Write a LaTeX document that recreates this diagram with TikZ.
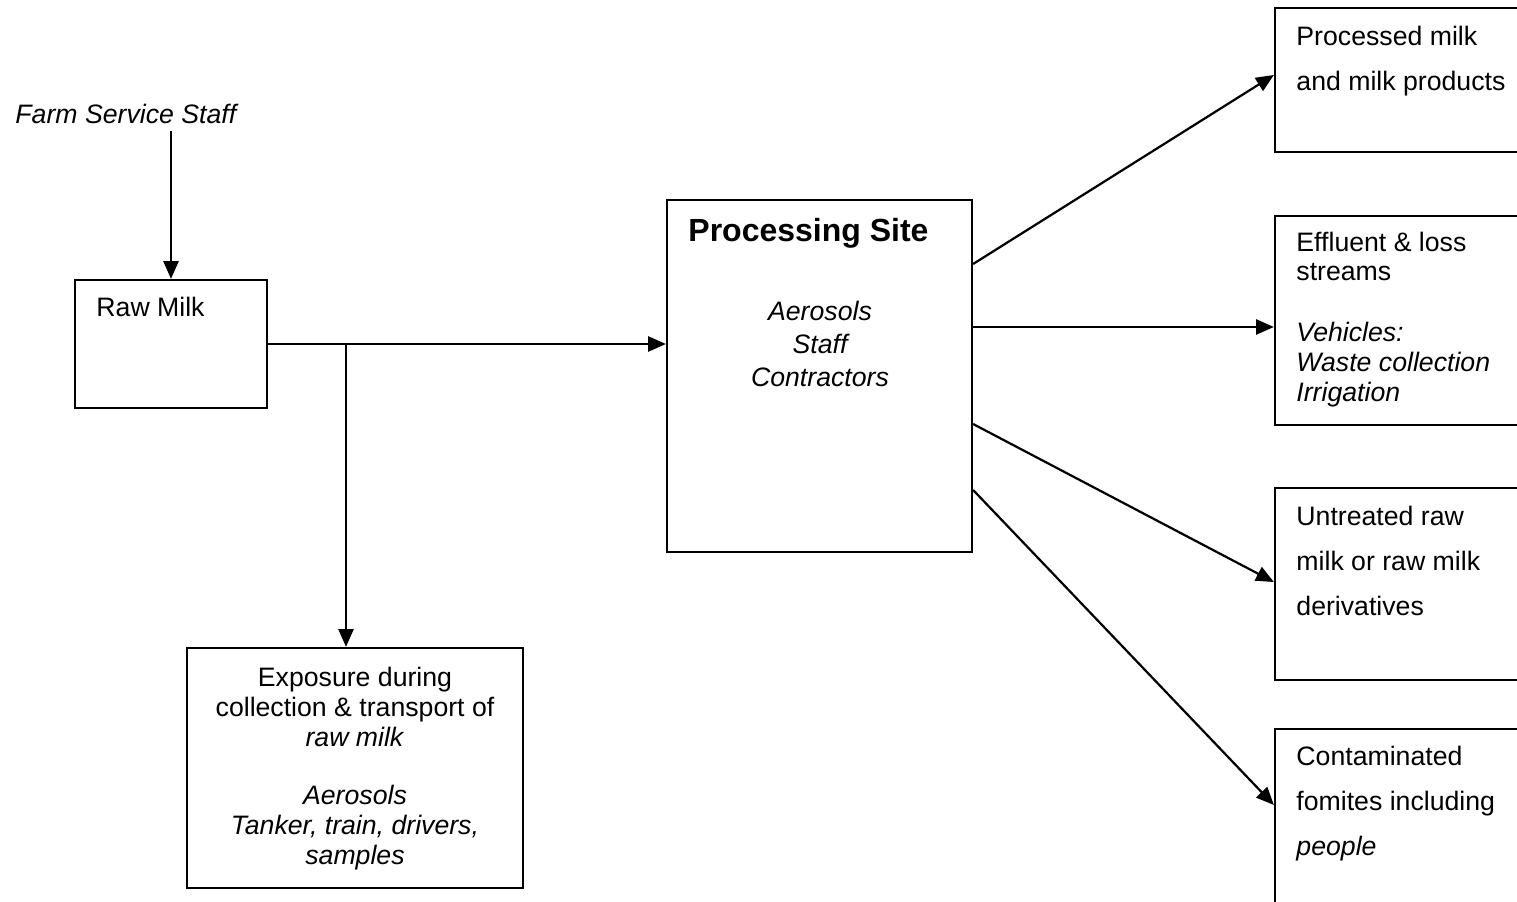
\documentclass[tikz,border=0pt]{standalone}
\usepackage{fontspec}
\setmainfont{Liberation Sans}
\usetikzlibrary{arrows.meta,fit}

\tikzset{
  box/.style={draw, line width=1pt, inner sep=0pt},
  txt/.style={inner sep=0pt, font=\fontsize{12}{13.5}\selectfont},
  wide/.style={inner sep=0pt, align=left, font=\fontsize{12}{20.25}\selectfont},
  link/.style={line width=1pt, -{Triangle[length=8pt,width=6.8pt]}},
}

\begin{document}
\begin{tikzpicture}[x=0.45pt,y=-0.45pt]
\useasboundingbox (0,0) rectangle (1517,902);
\clip (0,0) rectangle (1517,902);

% boxes
\node[box, fit={(75,280)(267,408)}] (raw) {};
\node[box, fit={(667,200)(972,552)}] (proc) {};
\node[box, fit={(187,648)(523,888)}] (expo) {};
\node[box, fit={(1275,8)(1530,152)}] (prod) {};
\node[box, fit={(1275,216)(1530,425)}] (eff) {};
\node[box, fit={(1275,488)(1530,680)}] (untr) {};
\node[box, fit={(1275,729)(1530,930)}] (fom) {};

% texts (base of a multi-line node = last line)
\node[txt, anchor=base west, inner ysep=3pt] (farm) at (15,124) {\itshape Farm Service Staff};
\node[txt, anchor=base west] (rawtxt) at (96,317) {Raw Milk};
\node[inner sep=0pt, anchor=base west, font=\fontsize{14.4}{17}\selectfont\bfseries] (proctxt) at (688,242) {Processing Site};
\node[txt, anchor=base, align=center, font=\fontsize{12}{14.9}\selectfont\itshape] (procitems) at (820,387)
  {Aerosols\\Staff\\Contractors};
\node[txt, anchor=base, align=center] (expotxt) at (355,864)
  {Exposure during\\collection \& transport of\\\textit{raw milk}\\[12.6pt]
   \textit{Aerosols}\\\textit{Tanker, train, drivers,}\\\textit{samples}};
\node[wide, anchor=base west] (prodtxt) at (1296,91) {Processed milk\\and milk products};
\node[inner sep=0pt, align=left, anchor=base west, font=\fontsize{12}{13.3}\selectfont] (efftxt) at (1296,401)
  {Effluent \& loss\\streams\\[14.2pt]\textit{Vehicles:}\\\textit{Waste collection}\\\textit{Irrigation}};
\node[wide, anchor=base west] (untrtxt) at (1296,615) {Untreated raw\\milk or raw milk\\derivatives};
\node[wide, anchor=base west] (fomtxt) at (1296,855) {Contaminated\\fomites including\\\textit{people}};

% connectors
\coordinate (split) at (raw.east -| 346,0);
\draw[link] (farm.south -| raw.north) -- (raw.north);
\draw[link] (raw.east) -- (proc.west |- raw.east);
\draw[link] (split) -- (expo.north -| split);
\draw[link] (proc.east |- 0,264) -- (prod.west |- 0,75);
\draw[link] (proc.east |- 0,327) -- (eff.west |- 0,327);
\draw[link] (proc.east |- 0,424) -- (untr.west |- 0,582);
\draw[link] (proc.east |- 0,490) -- (fom.west |- 0,805);
\end{tikzpicture}
\end{document}
